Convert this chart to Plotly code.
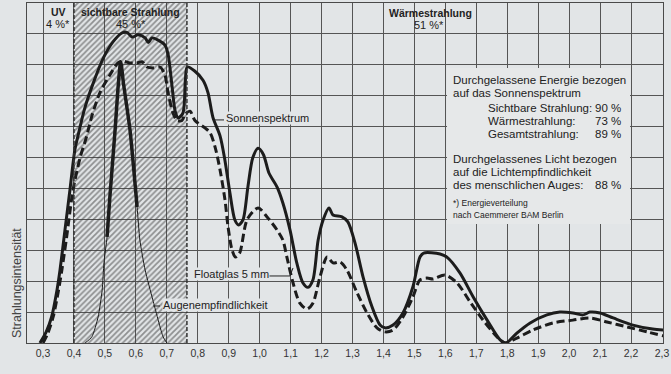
import numpy as np
import plotly.graph_objects as go

# ---------------- data ----------------
sun_x = [0.29, 0.31, 0.328, 0.345, 0.355, 0.371, 0.387, 0.403, 0.413, 0.435, 0.462, 0.494, 0.526,
         0.555, 0.571, 0.588, 0.607, 0.63, 0.64, 0.652, 0.672, 0.694, 0.704, 0.717, 0.727, 0.737,
         0.752, 0.760, 0.766, 0.79, 0.817, 0.833, 0.849, 0.872, 0.888, 0.904, 0.92, 0.932, 0.946,
         0.962, 0.978, 0.995, 1.012, 1.03, 1.056, 1.075, 1.098, 1.12, 1.14, 1.156, 1.172, 1.189,
         1.205, 1.224, 1.237, 1.266, 1.285, 1.308, 1.334, 1.363, 1.389, 1.405, 1.431, 1.463, 1.495,
         1.518, 1.53, 1.583, 1.605, 1.647, 1.69, 1.735, 1.777, 1.796, 1.831, 1.874, 1.928, 1.97,
         2.012, 2.045, 2.067, 2.1, 2.142, 2.206, 2.27, 2.305]
sun_y = [0.0, 0.35, 0.85, 1.7, 2.36, 3.66, 4.95, 6.25, 6.7, 7.6, 8.4, 9.2, 9.74,
         10.03, 10.05, 9.9, 9.97, 9.87, 9.72, 9.87, 9.8, 9.64, 9.35, 8.3, 7.5, 7.28,
         7.44, 8.5, 8.93, 8.8, 8.5, 8.1, 7.3, 6.7, 5.9, 4.85, 3.98, 3.82, 3.98,
         5.05, 6.0, 6.3, 6.1, 5.5, 5.05, 4.53, 3.66, 2.59, 1.94, 1.8, 2.04, 3.33,
         3.98, 4.37, 4.14, 4.08, 3.92, 3.24, 2.14, 1.17, 0.58, 0.49, 0.58, 0.97, 1.81,
         2.78, 2.91, 2.88, 2.78, 2.27, 1.49, 0.74, 0.1, 0.0, 0.32, 0.65, 0.91, 1.0,
         0.97, 0.91, 1.0, 0.97, 0.81, 0.58, 0.45, 0.42]

float_x = [0.30, 0.315, 0.333, 0.35, 0.36, 0.376, 0.397, 0.42, 0.44, 0.458, 0.484, 0.516, 0.542,
           0.558, 0.581, 0.604, 0.62, 0.636, 0.655, 0.678, 0.694, 0.704, 0.72, 0.733, 0.749, 0.759,
           0.775, 0.791, 0.823, 0.84, 0.856, 0.872, 0.888, 0.898, 0.911, 0.922, 0.935, 0.96, 0.995,
           1.024, 1.056, 1.075, 1.088, 1.108, 1.13, 1.153, 1.172, 1.195, 1.218, 1.237, 1.26, 1.282,
           1.315, 1.347, 1.379, 1.405, 1.431, 1.463, 1.495, 1.518, 1.54, 1.56, 1.599, 1.638, 1.68,
           1.722, 1.767, 1.793, 1.831, 1.883, 1.948, 2.012, 2.067, 2.122, 2.187, 2.252, 2.305]
float_y = [0.0, 0.3, 0.85, 1.7, 2.3, 3.4, 4.95, 6.0, 6.65, 7.35, 8.1, 8.67, 9.06,
           9.12, 9.06, 9.06, 9.1, 8.93, 8.9, 8.93, 8.67, 8.1, 7.44, 7.2, 7.2, 7.4,
           7.5, 7.2, 6.96, 6.8, 6.34, 5.6, 4.63, 3.75, 3.0, 2.78, 2.9, 4.0, 4.37,
           4.08, 3.66, 3.33, 2.78, 1.94, 1.29, 1.1, 1.29, 2.14, 2.78, 2.59, 2.62, 2.36,
           1.62, 0.97, 0.49, 0.36, 0.42, 0.84, 1.49, 2.04, 2.1, 2.07, 2.2, 1.94, 1.33,
           0.74, 0.2, 0.0, 0.16, 0.42, 0.65, 0.74, 0.81, 0.68, 0.52, 0.36, 0.23]

eye_x = [0.436, 0.458, 0.478, 0.491, 0.497, 0.507, 0.516, 0.533, 0.542, 0.551, 0.56, 0.581,
         0.604, 0.613, 0.63, 0.655, 0.688, 0.70]
eye_y = [0.0, 0.2, 0.84, 1.7, 2.6, 3.43, 4.72, 6.9, 8.2, 9.1, 8.4, 6.9,
         4.4, 3.33, 2.36, 1.39, 0.2, 0.0]

x_ticks = [0.3, 0.4, 0.5, 0.6, 0.7, 0.8, 0.9, 1.0, 1.1, 1.2, 1.3, 1.4, 1.5, 1.6, 1.7, 1.8,
           1.9, 2.0, 2.1, 2.2, 2.3]
visible_band = [0.4, 0.765]
y_max = 11

# ---------------- figure ----------------
BG = "#e2e5e7"
INK = "#1c1c1c"
FONT = "Liberation Sans"

fig = go.Figure()

# hatched visible band
fig.add_trace(go.Scatter(
    x=[visible_band[0], visible_band[1], visible_band[1], visible_band[0], visible_band[0]],
    y=[0, 0, y_max, y_max, 0],
    mode="lines", fill="toself", line=dict(width=0),
    fillcolor="rgba(0,0,0,0)",
    fillpattern=dict(shape="/", fgcolor="#3a3a3a", bgcolor="rgba(0,0,0,0)", size=4, solidity=0.45),
    hoverinfo="skip", showlegend=False))

# eye sensitivity - thin full curve
fig.add_trace(go.Scatter(x=eye_x, y=eye_y, mode="lines",
                         line=dict(color=INK, width=1, shape="spline", smoothing=0.6),
                         showlegend=False, hoverinfo="skip"))
# eye sensitivity - thick upper part
eye_thick = [v if v >= 3.4 else None for v in eye_y]
fig.add_trace(go.Scatter(x=eye_x, y=eye_thick, mode="lines",
                         line=dict(color=INK, width=3.5, shape="spline", smoothing=0.6),
                         connectgaps=False, showlegend=False, hoverinfo="skip"))

# Floatglas 5 mm (dashed)
fig.add_trace(go.Scatter(x=float_x, y=float_y, mode="lines",
                         line=dict(color=INK, width=3, dash="8px,4px", shape="spline", smoothing=0.8),
                         showlegend=False, hoverinfo="skip"))
# Sonnenspektrum (solid)
fig.add_trace(go.Scatter(x=sun_x, y=sun_y, mode="lines",
                         line=dict(color=INK, width=3, shape="spline", smoothing=0.8),
                         showlegend=False, hoverinfo="skip"))

# dashed boundaries of visible band
for xb in visible_band:
    fig.add_shape(type="line", x0=xb, x1=xb, y0=0, y1=y_max, xref="x", yref="y",
                  line=dict(color="#333333", width=1.5, dash="4px,2px"), layer="above")

# text box background
fig.add_shape(type="rect", x0=0.2483 + (447 - 27) / 309.5, x1=0.2483 + (630 - 27) / 309.5,
              y0=(343 - 224) / 30.9, y1=(343 - 68) / 30.9, xref="x", yref="y",
              fillcolor="#e6e8e9", line=dict(width=0), layer="between")


def px2x(X):
    return 0.2483 + (X - 27) / 309.5


def py2y(Y):
    return (343 - Y) / 30.9


def ann(text, X, Y, size=11, xanchor="center", bold=False, bg=None, color="#222"):
    fig.add_annotation(x=px2x(X), y=py2y(Y), xref="x", yref="y", text=text, showarrow=False,
                       xanchor=xanchor, yanchor="middle",
                       font=dict(family=FONT, size=size, color=color),
                       bgcolor=bg, borderpad=0)


# band headings
ann("<b>UV</b>", 58, 12, size=10.5)
ann("4 %*", 58, 24.5, size=11)
ann("<b>sichtbare Strahlung</b>", 130, 12, size=10.5)
ann("45 %*", 131, 24.5, size=11)
ann("<b>Wärmestrahlung</b>", 430, 13, size=10.5)
ann("51 %*", 429, 25.5, size=11)

# info box
ann("Durchgelassene Energie bezogen", 452, 80, size=11.5, xanchor="left")
ann("auf das Sonnenspektrum", 452, 93, size=11.5, xanchor="left")
ann("Sichtbare Strahlung:", 487, 108, size=11.5, xanchor="left")
ann("90 %", 622, 108, size=11.5, xanchor="right")
ann("Wärmestrahlung:", 487, 121, size=11.5, xanchor="left")
ann("73 %", 622, 121, size=11.5, xanchor="right")
ann("Gesamtstrahlung:", 487, 134, size=11.5, xanchor="left")
ann("89 %", 622, 134, size=11.5, xanchor="right")
ann("Durchgelassenes Licht bezogen", 452, 159, size=11.5, xanchor="left")
ann("auf die Lichtempfindlichkeit", 452, 172, size=11.5, xanchor="left")
ann("des menschlichen Auges:", 452, 185, size=11.5, xanchor="left")
ann("88 %", 622, 185, size=11.5, xanchor="right")
ann("*) Energieverteilung", 452, 203, size=8.5, xanchor="left")
ann("nach Caemmerer BAM Berlin", 452, 215, size=8.5, xanchor="left")

# curve labels
ann("Sonnenspektrum", 225, 118, size=11, xanchor="left", bg=BG)
ann("Floatglas 5 mm", 193, 274, size=11, xanchor="left", bg=BG)
ann("Augenempfindlichkeit", 162, 305, size=11, xanchor="left", bg=BG)

# leader lines
for (X0, X1, Y) in [(213, 224, 120), (269, 290, 276), (153, 160, 306)]:
    fig.add_shape(type="line", x0=px2x(X0), x1=px2x(X1), y0=py2y(Y), y1=py2y(Y),
                  xref="x", yref="y", line=dict(color="#222", width=1))
fig.add_shape(type="line", x0=px2x(290), x1=px2x(293), y0=py2y(276), y1=py2y(268),
              xref="x", yref="y", line=dict(color="#222", width=1))

# unit and y title
fig.add_annotation(x=px2x(657), y=py2y(367), xref="x", yref="y", text="µm", showarrow=False,
                   font=dict(family=FONT, size=10.5, color="#333"))
fig.add_annotation(x=(8 - 27) / 636, y=py2y(283), xref="paper", yref="y",
                   text="Strahlungsintensität", textangle=-90, showarrow=False,
                   font=dict(family=FONT, size=12.5, color="#444"))

fig.update_layout(
    width=671, height=374,
    margin=dict(l=27, r=8, t=3, b=31),
    paper_bgcolor=BG, plot_bgcolor=BG,
    separators=",.",
    showlegend=False,
    font=dict(family=FONT, color="#333"),
)
fig.update_xaxes(range=[0.2483, 2.3032], tickvals=x_ticks, tickformat=".1f",
                 showgrid=True, gridcolor="#555555", gridwidth=1,
                 showline=True, mirror=True, linecolor="#4a4a4a", linewidth=1,
                 ticks="", tickfont=dict(family=FONT, size=10.5, color="#333"),
                 zeroline=False, fixedrange=True)
fig.update_yaxes(range=[0, y_max], dtick=1, tick0=0, showticklabels=False,
                 showgrid=True, gridcolor="#555555", gridwidth=1,
                 showline=True, mirror=True, linecolor="#4a4a4a", linewidth=1,
                 ticks="", zeroline=False, fixedrange=True)

fig.write_html("out.html",
               config={"displayModeBar": False, "staticPlot": True},
               post_script="document.body.style.margin='0px';document.body.style.overflow='hidden';"
                           "document.body.style.background='" + BG + "';")
